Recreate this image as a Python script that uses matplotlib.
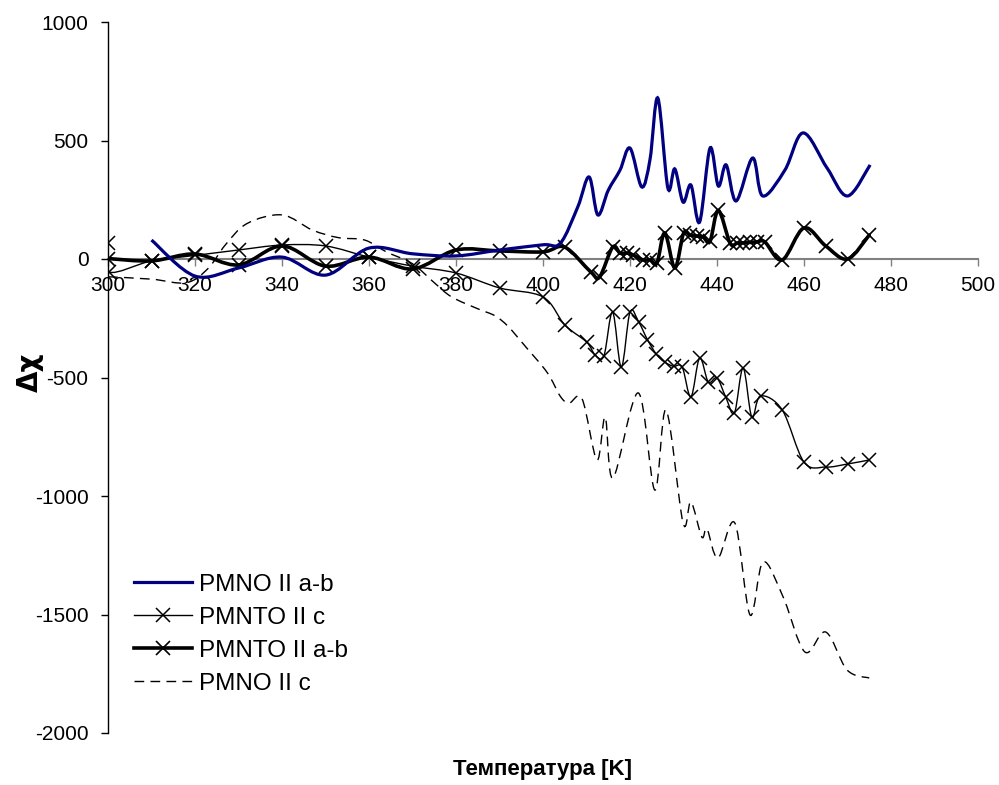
import matplotlib
matplotlib.use("Agg")
import matplotlib.pyplot as plt
from matplotlib.path import Path
from matplotlib.patches import PathPatch
from matplotlib.lines import Line2D

plt.rcParams["font.family"] = ["Liberation Sans", "DejaVu Sans"]
plt.rcParams["axes.unicode_minus"] = False

# PMNO II a-b
t_pmno_ab = [310, 320, 330, 340, 350, 360, 370, 380, 390, 400, 404, 408, 410.6,
             412.6, 415, 417.7, 420, 422.7, 424.6, 426.4, 428.7, 430.3, 432.2,
             434, 436, 438.4, 440.3, 442.1, 444.4, 448.2, 450.5, 455.6, 459.8,
             465.3, 470, 475.2]
chi_pmno_ab = [80, -72, -38, 8, -68, 46, 22, 13, 38, 60, 67, 220, 346,
               186, 290, 375, 468, 304, 420, 679, 300, 380, 240,
               312, 156, 468, 308, 397, 245, 426, 266, 375, 532,
               384, 266, 397]

# PMNTO II c
t_pmnto_c = [300, 300.3, 310, 320, 330, 340, 350, 360, 370, 380, 390, 400, 405,
             410, 412, 414, 416, 418, 420, 422, 424, 426, 428, 430, 432, 434,
             436, 438, 440, 442, 444, 446, 448, 450, 455, 460, 465, 470, 475]
chi_pmnto_c = [68, -55, -8, 15, 38, 59, 55, 8, -30, -59, -122, -160, -278,
               -350, -405, -409, -224, -456, -224, -266, -340, -400, -435, -453,
               -456, -582, -418, -519, -502, -582, -650, -460, -667, -578, -637,
               -857, -878, -865, -848]

# PMNTO II a-b
t_pmnto_ab = [300, 310, 320, 330, 340, 350, 360, 370, 380, 390, 400, 405, 411,
              413, 416, 417.7, 419.3, 420.7, 423, 424.6, 426.2, 428, 430.3,
              432.3, 433.8, 435.3, 436.8, 438.4, 440.3, 443, 444.6, 446, 447.6,
              449.2, 451, 455, 460, 465, 470, 475]
chi_pmnto_ab = [2, -8, 21, -25, 55, -30, 8, -42, 38, 34, 30, 50, -55,
                -76, 50, 25, 25, 17, -4, -4, -17, 110, -38,
                108, 101, 97, 93, 75, 205, 67, 67, 68, 70,
                72, 72, -4, 131, 55, 0, 101]

# PMNO II c
t_pmno_c = [300, 310, 318, 323, 327, 332, 340, 347, 353, 359, 364, 370, 375,
            379, 385, 389, 392, 396, 401, 404, 406, 409, 412.4, 414.3, 416.1,
            421.9, 425.7, 428.3, 432.2, 434, 436.5, 437.7, 440.2, 444.1, 447.6,
            450.6, 455.2, 460.2, 465, 469.9, 475]
chi_pmno_c = [-75, -85, -100, -40, 60, 150, 186, 122, 90, 80, 30, -20, -100,
              -160, -210, -240, -285, -370, -480, -580, -608, -591, -848, -667,
              -924, -565, -975, -637, -1114, -1025, -1173, -1139, -1262, -1114,
              -1502, -1278, -1426, -1658, -1574, -1734, -1768]


def smooth_path(xs, ys):
    # cubic bezier through every point (Catmull-Rom tangents)
    pts = list(zip(xs, ys))
    n = len(pts)
    verts = [pts[0]]
    codes = [Path.MOVETO]
    for i in range(n - 1):
        p0 = pts[i - 1] if i > 0 else pts[i]
        p1 = pts[i]
        p2 = pts[i + 1]
        p3 = pts[i + 2] if i + 2 < n else pts[i + 1]
        c1 = (p1[0] + (p2[0] - p0[0]) / 6, p1[1] + (p2[1] - p0[1]) / 6)
        c2 = (p2[0] - (p3[0] - p1[0]) / 6, p2[1] - (p3[1] - p1[1]) / 6)
        verts += [c1, c2, p2]
        codes += [Path.CURVE4] * 3
    return Path(verts, codes)


def add_curve(ax, xs, ys, **kw):
    patch = PathPatch(smooth_path(xs, ys), facecolor="none", **kw)
    ax.add_patch(patch)


fig = plt.figure(figsize=(9.99, 7.85), dpi=100)
ax = fig.add_axes([108 / 999, 52 / 785, 870 / 999, 711 / 785])

add_curve(ax, t_pmno_c, chi_pmno_c, edgecolor="black", lw=1.0,
          linestyle=(0, (7, 4.5)), zorder=2)
add_curve(ax, t_pmnto_c, chi_pmnto_c, edgecolor="black", lw=1.0, zorder=3)
ax.plot(t_pmnto_c, chi_pmnto_c, linestyle="none", marker="x", ms=10,
        mew=1.1, color="black", zorder=3)
add_curve(ax, t_pmnto_ab, chi_pmnto_ab, edgecolor="black", lw=2.6,
          capstyle="round", joinstyle="round", zorder=4)
ax.plot(t_pmnto_ab, chi_pmnto_ab, linestyle="none", marker="x", ms=10,
        mew=1.2, color="black", zorder=4)
add_curve(ax, t_pmno_ab, chi_pmno_ab, edgecolor="#000080", lw=2.3, zorder=5)

ax.set_xlim(300, 500)
ax.set_ylim(-2000, 1000)
ax.set_xticks(range(300, 501, 20))
ax.set_yticks(range(-2000, 1001, 500))

for s in ["top", "right"]:
    ax.spines[s].set_visible(False)
ax.spines["bottom"].set_position(("data", 0))
ax.spines["bottom"].set_color("#808080")
ax.spines["bottom"].set_linewidth(1.5)
ax.spines["bottom"].set_zorder(1)
ax.spines["left"].set_linewidth(1.0)
ax.tick_params(axis="x", direction="out", length=5, color="#808080",
               width=1.0, labelsize=15, pad=7)
ax.tick_params(axis="y", direction="out", length=5, width=1.0,
               labelsize=15, pad=9)

handles = [
    Line2D([], [], color="#000080", lw=2.3),
    Line2D([], [], color="black", lw=1.0, marker="x", ms=10, mew=1.1),
    Line2D([], [], color="black", lw=2.6, marker="x", ms=10, mew=1.2),
    Line2D([], [], color="black", lw=1.0, linestyle=(0, (7, 4.5))),
]
labels = ["PMNO II a-b", "PMNTO II c", "PMNTO II a-b", "PMNO II c"]
ax.legend(handles, labels, loc="upper left", bbox_to_anchor=(0.03, 0.224),
          frameon=False, fontsize=17.5, handlelength=2.4, handletextpad=0.25,
          labelspacing=0.45, borderaxespad=0, borderpad=0)

fig.text(0.5435, 1 - 770 / 785, "Температура [K]", ha="center", va="center",
         fontsize=16, fontweight="bold")
fig.text(30 / 999, 1 - 372 / 785, "Δχ", ha="center", va="center",
         fontsize=20, fontweight="bold", rotation=90,
         family=["DejaVu Sans"])

fig.savefig("out.png", dpi=100)
